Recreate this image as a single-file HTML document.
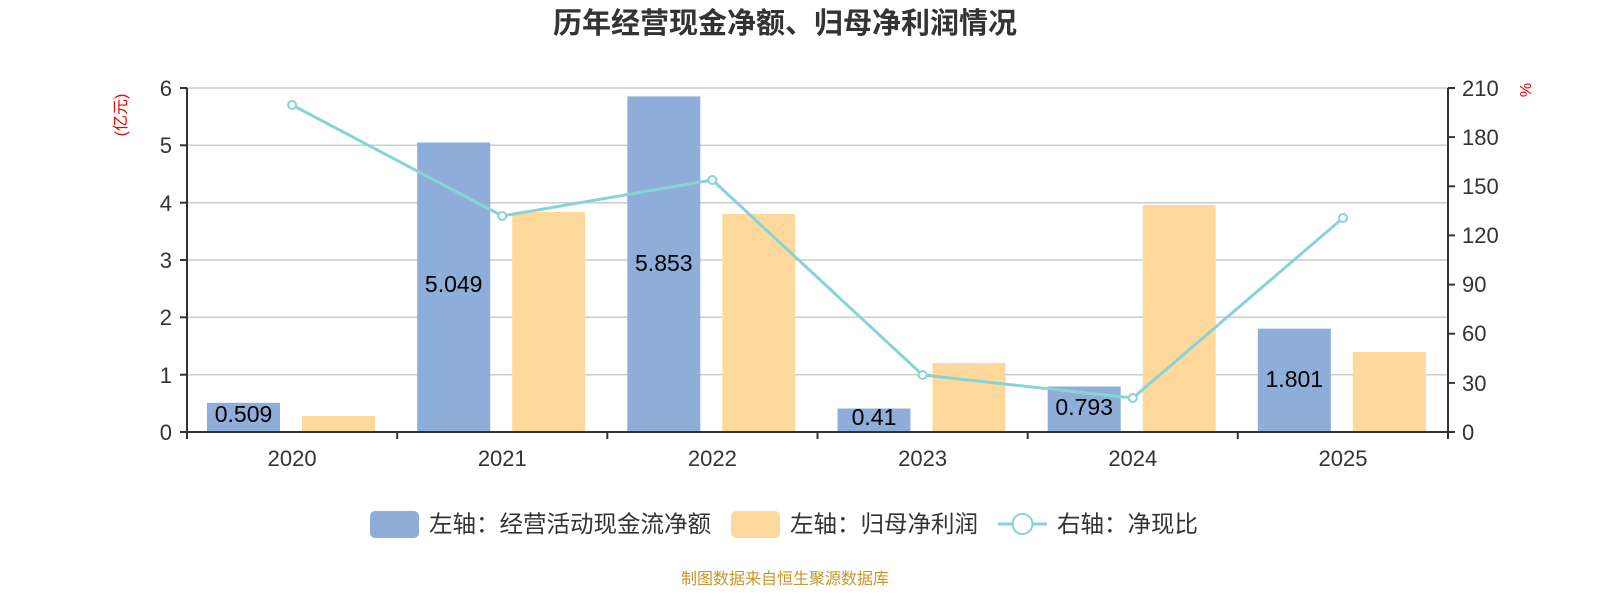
<!DOCTYPE html><html><head><meta charset="utf-8"><style>body{margin:0;background:#fff}svg{display:block;font-family:"Liberation Sans","Noto Sans CJK SC",sans-serif}</style></head><body>
<svg width="1600" height="600" xmlns="http://www.w3.org/2000/svg">
<text x="785" y="33" text-anchor="middle" font-size="29" font-weight="bold" fill="#333">历年经营现金净额、归母净利润情况</text>
<g stroke="#ccc" stroke-width="1.5">
<line x1="187" x2="1448" y1="88" y2="88"/><line x1="187" x2="1448" y1="145.3" y2="145.3"/><line x1="187" x2="1448" y1="202.7" y2="202.7"/><line x1="187" x2="1448" y1="260" y2="260"/><line x1="187" x2="1448" y1="317.3" y2="317.3"/><line x1="187" x2="1448" y1="374.7" y2="374.7"/></g>
<g fill="#8eadd9">
<rect x="207" y="402.8" width="73" height="29.2"/><rect x="417.2" y="142.5" width="73" height="289.5"/><rect x="627.3" y="96.4" width="73" height="335.6"/><rect x="837.5" y="408.5" width="73" height="23.5"/><rect x="1047.7" y="386.5" width="73" height="45.5"/><rect x="1257.8" y="328.7" width="73" height="103.3"/></g>
<g fill="#fed99b">
<rect x="302" y="416" width="73" height="16"/><rect x="512.2" y="212" width="73" height="220"/><rect x="722.3" y="214" width="73" height="218"/><rect x="932.5" y="363" width="73" height="69"/><rect x="1142.7" y="205" width="73" height="227"/><rect x="1352.8" y="352" width="73" height="80"/></g>
<g font-size="23" fill="#000" text-anchor="middle">
<text x="243.5" y="422">0.509</text><text x="453.7" y="292">5.049</text><text x="663.8" y="271">5.853</text><text x="874" y="425">0.41</text><text x="1084.2" y="415">0.793</text><text x="1294.3" y="387">1.801</text></g>
<polyline points="292.1,105 502.3,216 712.4,180 922.6,375 1132.8,398 1343,218" fill="none" stroke="#86d4d8" stroke-width="3"/>
<g fill="#fff" stroke="#86d4d8" stroke-width="2">
<circle cx="292.1" cy="105" r="4"/><circle cx="502.3" cy="216" r="4"/><circle cx="712.4" cy="180" r="4"/><circle cx="922.6" cy="375" r="4"/><circle cx="1132.8" cy="398" r="4"/><circle cx="1343" cy="218" r="4"/></g>
<g stroke="#333" stroke-width="2">
<line x1="187" x2="187" y1="88" y2="432"/><line x1="1448" x2="1448" y1="88" y2="432"/><line x1="187" x2="1448" y1="432" y2="432"/>
<line x1="180" x2="187" y1="88" y2="88"/><line x1="180" x2="187" y1="145.3" y2="145.3"/><line x1="180" x2="187" y1="202.7" y2="202.7"/><line x1="180" x2="187" y1="260" y2="260"/><line x1="180" x2="187" y1="317.3" y2="317.3"/><line x1="180" x2="187" y1="374.7" y2="374.7"/><line x1="180" x2="187" y1="432" y2="432"/>
<line x1="1448" x2="1455" y1="88" y2="88"/><line x1="1448" x2="1455" y1="137.1" y2="137.1"/><line x1="1448" x2="1455" y1="186.3" y2="186.3"/><line x1="1448" x2="1455" y1="235.4" y2="235.4"/><line x1="1448" x2="1455" y1="284.6" y2="284.6"/><line x1="1448" x2="1455" y1="333.7" y2="333.7"/><line x1="1448" x2="1455" y1="382.9" y2="382.9"/><line x1="1448" x2="1455" y1="432" y2="432"/>
<line x1="187" x2="187" y1="432" y2="439"/><line x1="397.2" x2="397.2" y1="432" y2="439"/><line x1="607.3" x2="607.3" y1="432" y2="439"/><line x1="817.5" x2="817.5" y1="432" y2="439"/><line x1="1027.7" x2="1027.7" y1="432" y2="439"/><line x1="1237.8" x2="1237.8" y1="432" y2="439"/><line x1="1448" x2="1448" y1="432" y2="439"/></g>
<g font-size="22" fill="#333" text-anchor="end">
<text x="172" y="96">6</text><text x="172" y="153">5</text><text x="172" y="211">4</text><text x="172" y="268">3</text><text x="172" y="325">2</text><text x="172" y="383">1</text><text x="172" y="440">0</text></g>
<g font-size="22" fill="#333" text-anchor="start">
<text x="1462" y="96">210</text><text x="1462" y="145">180</text><text x="1462" y="194">150</text><text x="1462" y="243">120</text><text x="1462" y="292">90</text><text x="1462" y="341">60</text><text x="1462" y="391">30</text><text x="1462" y="440">0</text></g>
<g font-size="22" fill="#333" text-anchor="middle">
<text x="292.1" y="466">2020</text><text x="502.3" y="466">2021</text><text x="712.4" y="466">2022</text><text x="922.6" y="466">2023</text><text x="1132.8" y="466">2024</text><text x="1343" y="466">2025</text></g>
<text transform="translate(120,115) rotate(-90)" text-anchor="middle" font-size="16" fill="#e00" dy="6">(亿元)</text>
<text transform="translate(1525,90) rotate(-90)" text-anchor="middle" font-size="16" fill="#e00" dy="6">%</text>
<rect x="370" y="511" width="49" height="27" rx="5" fill="#8eadd9"/>
<text x="429" y="532" font-size="23.5" fill="#333">左轴：经营活动现金流净额</text>
<rect x="731" y="511" width="49" height="27" rx="5" fill="#fed99b"/>
<text x="790" y="532" font-size="23.5" fill="#333">左轴：归母净利润</text>
<line x1="998" x2="1047" y1="524" y2="524" stroke="#86d4d8" stroke-width="3"/>
<circle cx="1022.5" cy="524" r="10" fill="#fff" stroke="#86d4d8" stroke-width="2"/>
<text x="1057" y="532" font-size="23.5" fill="#333">右轴：净现比</text>
<text x="785" y="584" text-anchor="middle" font-size="16" fill="#c8952a">制图数据来自恒生聚源数据库</text>
</svg></body></html>
